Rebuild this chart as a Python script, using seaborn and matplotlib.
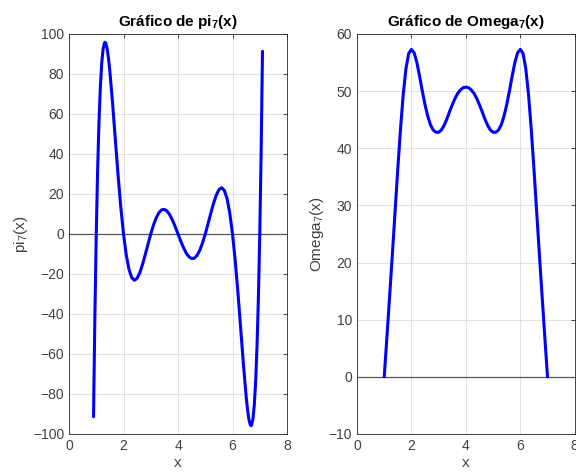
import numpy as np
import pandas as pd
import matplotlib
matplotlib.use("Agg")
import matplotlib.pyplot as plt
import seaborn as sns

# valores
x_pi = [0.9, 0.95, 1.0, 1.05, 1.1, 1.15, 1.2, 1.25, 1.3, 1.32, 1.35, 1.4, 1.45, 1.5,
        1.6, 1.7, 1.8, 1.9, 2.0, 2.1, 2.2, 2.3, 2.4, 2.5, 2.6, 2.7, 2.8, 2.9, 3.0,
        3.1, 3.2, 3.3, 3.4, 3.5, 3.6, 3.7, 3.8, 3.9, 4.0, 4.1, 4.2, 4.3, 4.4, 4.5,
        4.6, 4.7, 4.8, 4.9, 5.0, 5.1, 5.2, 5.3, 5.4, 5.5, 5.6, 5.7, 5.8, 5.9, 6.0,
        6.1, 6.2, 6.3, 6.4, 6.5, 6.55, 6.6, 6.65, 6.68, 6.7, 6.75, 6.8, 6.85, 6.9,
        6.95, 7.0, 7.05, 7.1]
y_pi = [-91.34, -40.62, 0.0, 31.79, 55.91, 73.43, 85.31, 92.42, 95.55, 95.84, 95.39,
        92.59, 87.70, 81.21, 65.14, 47.22, 29.52, 13.48, 0.0, -10.42, -17.65, -21.79,
        -23.15, -22.15, -19.30, -15.15, -10.22, -5.02, 0.0, 4.47, 8.09, 10.66, 12.08,
        12.30, 11.41, 9.51, 6.81, 3.55, 0.0, -3.55, -6.81, -9.51, -11.41, -12.30,
        -12.08, -10.66, -8.09, -4.47, 0.0, 5.02, 10.22, 15.15, 19.30, 22.15, 23.15,
        21.79, 17.65, 10.42, 0.0, -13.48, -29.52, -47.22, -65.14, -81.21, -87.70,
        -92.59, -95.39, -95.84, -95.55, -92.42, -85.31, -73.43, -55.91, -31.79, 0.0,
        40.62, 91.34]

x_omega = [1.0, 1.1, 1.2, 1.3, 1.4, 1.5, 1.6, 1.7, 1.8, 1.9, 2.0, 2.1, 2.2, 2.3, 2.4,
           2.5, 2.6, 2.7, 2.8, 2.9, 3.0, 3.1, 3.2, 3.3, 3.4, 3.5, 3.6, 3.7, 3.8, 3.9,
           4.0, 4.1, 4.2, 4.3, 4.4, 4.5, 4.6, 4.7, 4.8, 4.9, 5.0, 5.1, 5.2, 5.3, 5.4,
           5.5, 5.6, 5.7, 5.8, 5.9, 6.0, 6.1, 6.2, 6.3, 6.4, 6.5, 6.6, 6.7, 6.8, 6.9, 7.0]
y_omega = [0.0, 7.0, 14.2, 21.5, 29.0, 36.5, 43.5, 49.5, 54.0, 56.6, 57.3, 56.7, 55.0,
           52.6, 50.0, 47.6, 45.6, 44.1, 43.2, 42.8, 42.8, 43.2, 44.0, 45.1, 46.4, 47.6,
           48.7, 49.6, 50.2, 50.6, 50.7, 50.6, 50.2, 49.6, 48.7, 47.6, 46.4, 45.1, 44.0,
           43.2, 42.8, 42.8, 43.2, 44.1, 45.6, 47.6, 50.0, 52.6, 55.0, 56.7, 57.3, 56.6,
           54.0, 49.5, 43.5, 36.5, 29.0, 21.5, 14.2, 7.0, 0.0]

pi_ticks = list(range(-100, 101, 20))
omega_ticks = list(range(-10, 61, 10))
x_ticks = [0, 2, 4, 6, 8]

sns.set_style("white")
plt.rcParams['font.family'] = ['Liberation Sans', 'DejaVu Sans']
plt.rcParams['mathtext.fontset'] = 'custom'
plt.rcParams['mathtext.rm'] = 'Liberation Sans'
plt.rcParams['mathtext.bf'] = 'Liberation Sans:bold'

fig = plt.figure(figsize=(5.76, 4.74), dpi=100)
ax1 = fig.add_axes([0.1198, 0.0844, 0.3785, 0.8439])
ax2 = fig.add_axes([0.6198, 0.0844, 0.378, 0.8439])

pi_df = pd.DataFrame({'x': x_pi, 'y': y_pi})
omega_df = pd.DataFrame({'x': x_omega, 'y': y_omega})

gray = '#262626'
for ax, df, yt, ylab, tit in [
        (ax1, pi_df, pi_ticks, r'pi$_7$(x)', r'Gráfico de pi$_\mathbf{7}$(x)'),
        (ax2, omega_df, omega_ticks, r'Omega$_7$(x)', r'Gráfico de Omega$_\mathbf{7}$(x)')]:
    ax.axhline(0, color='#555555', lw=0.9, zorder=1)
    sns.lineplot(data=df, x='x', y='y', ax=ax, color='#0000ff', lw=2.2,
                 estimator=None, zorder=3)
    ax.set_xlim(0, 8)
    ax.set_ylim(yt[0], yt[-1])
    ax.set_xticks(x_ticks)
    ax.set_yticks(yt)
    ax.grid(True, color='#dcdcdc', lw=0.6)
    ax.set_axisbelow(True)
    ax.tick_params(direction='in', length=3, width=0.6, top=True, right=True,
                   colors=gray, labelsize=10, labelcolor='#404040')
    for sp in ax.spines.values():
        sp.set_color(gray)
        sp.set_linewidth(0.6)
    ax.set_xlabel('x', fontsize=11, color='#404040', labelpad=2)
    ax.set_ylabel(ylab, fontsize=11, color='#404040', labelpad=2)
    ax.set_title(tit, fontsize=11, fontweight='bold', color='black', pad=6)

fig.savefig('out.png', dpi=100)
